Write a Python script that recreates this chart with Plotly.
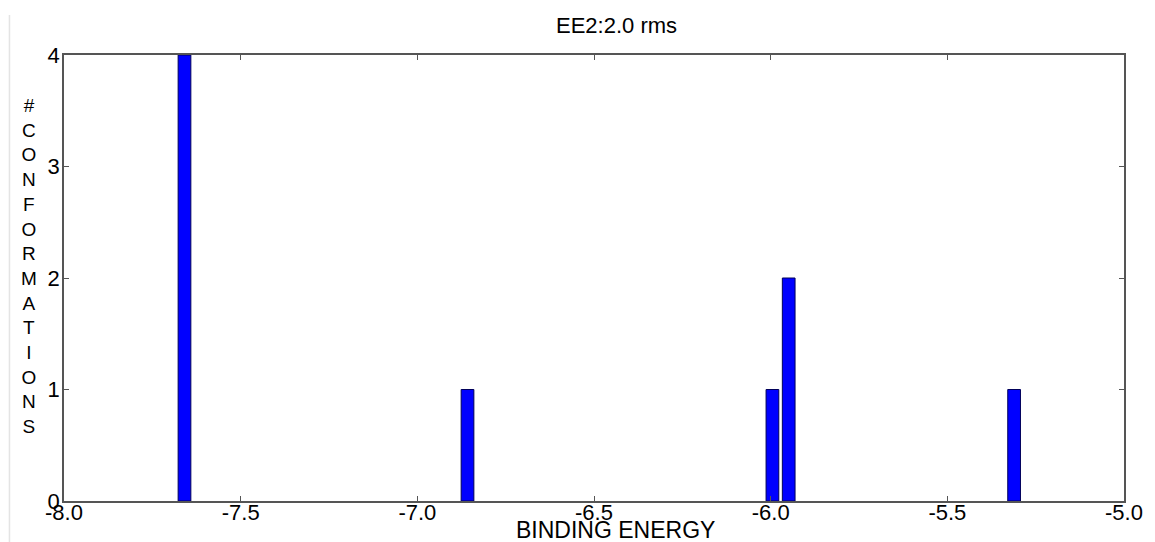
import plotly.graph_objects as go

# Data
energies = [-7.659, -6.858, -5.995, -5.949, -5.311]
counts = [4, 1, 1, 2, 1]
x_ticks = [-8.0, -7.5, -7.0, -6.5, -6.0, -5.5, -5.0]
x_tick_labels = ["-8.0", "-7.5", "-7.0", "-6.5", "-6.0", "-5.5", "-5.0"]
y_ticks = [0, 1, 2, 3, 4]
y_tick_labels = ["0", "1", "2", "3", "4"]
title_text = "EE2:2.0 rms"
x_title = "BINDING ENERGY"
y_title = "#CONFORMATIONS"

FONT = "Liberation Sans, Arial, sans-serif"
PW, PH = 1069, 446  # plot area size in px

fig = go.Figure()
fig.add_trace(go.Bar(
    x=energies, y=counts, width=0.036,
    marker=dict(color="#0000FF", line=dict(color="#00005a", width=1)),
))

axis_common = dict(
    showline=True, mirror="ticks", linecolor="#555555", linewidth=1.5,
    ticks="inside", ticklen=5, tickcolor="#555555", tickwidth=1,
    showgrid=False, zeroline=False,
    tickfont=dict(family=FONT, size=22, color="#000000"),
)

fig.update_layout(
    width=1155, height=542,
    margin=dict(l=64, r=22, t=55, b=41),
    paper_bgcolor="white", plot_bgcolor="white",
    showlegend=False,
    xaxis=dict(range=[-8, -5], tickvals=x_ticks, ticktext=x_tick_labels,
               ticklabelstandoff=-9, **axis_common),
    yaxis=dict(range=[0, 4], tickvals=y_ticks, ticktext=y_tick_labels,
               ticklabelstandoff=-2, **axis_common),
    annotations=[
        dict(text=title_text, xref="paper", yref="paper",
             x=(621 - 64) / PW, y=1 + (55 - 25) / PH, yanchor="middle",
             showarrow=False, font=dict(family=FONT, size=22, color="#000")),
        dict(text=x_title, xref="paper", yref="paper",
             x=(620 - 64) / PW, y=-(530 - 501) / PH, yanchor="middle",
             showarrow=False, font=dict(family=FONT, size=23, color="#000")),
        dict(text="<br>".join(list(y_title)), xref="paper", yref="paper",
             x=(29 - 64) / PW, y=(501 - 266) / PH, xanchor="center", yanchor="middle",
             showarrow=False, align="center",
             font=dict(family=FONT, size=19, color="#000")),
    ],
    shapes=[
        dict(type="line", xref="paper", yref="paper",
             x0=(9 - 64) / PW, x1=(9 - 64) / PW,
             y0=(501 - 542) / PH, y1=(501 - 15) / PH,
             line=dict(color="#e4e4e4", width=1.5)),
    ],
)

fig.write_html("out.html")
